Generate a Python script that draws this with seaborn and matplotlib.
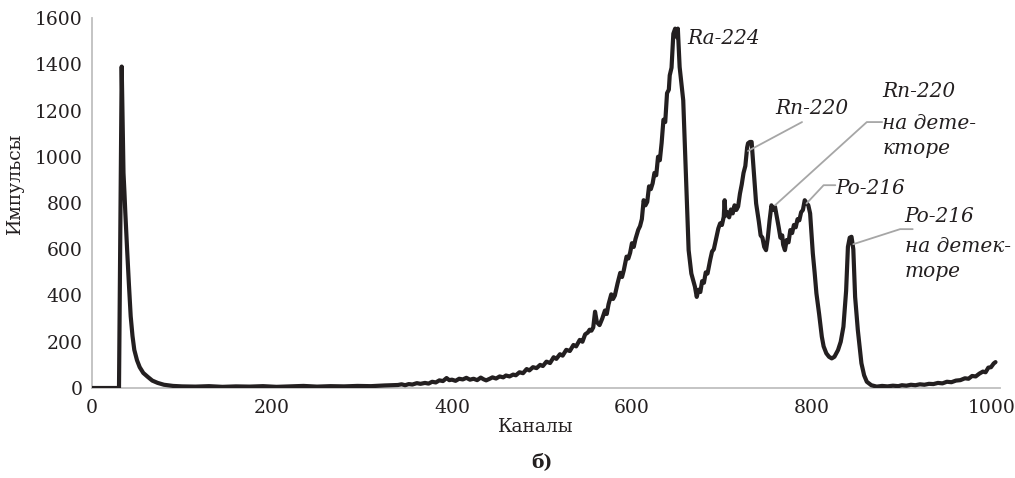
import pandas as pd
import matplotlib
matplotlib.use("Agg")
import matplotlib.pyplot as plt
import seaborn as sns

# спектр: канал -> импульсы
channels = [0, 10, 20, 30, 33, 35, 36, 37, 39, 41, 43, 45, 47, 50, 53, 57, 62, 67, 73, 80,
            90, 100, 115, 130, 145, 160, 175, 190, 205, 220, 235, 250, 265, 280, 295, 310,
            325, 340, 344, 348, 352, 356, 361, 365, 370, 374, 378, 382, 386, 390, 394, 397,
            400, 404, 408, 412, 416, 420, 424, 428, 432, 435, 438, 442, 445, 449, 453, 457,
            460, 464, 468, 471, 475, 479, 483, 486, 490, 494, 498, 501, 505, 509, 513, 516,
            520, 523, 527, 531, 535, 538, 542, 545, 548, 551, 553, 555, 557, 559, 561, 564,
            567, 570, 572, 574, 577, 579, 581, 584, 587, 589, 591, 594, 596, 598, 600, 602,
            604, 607, 609, 611, 613, 615, 617, 619, 621, 623, 625, 627, 629, 631, 633, 635,
            637, 639, 641, 642, 644, 646, 648, 650, 651, 653, 657, 659, 661, 663, 666, 670,
            672, 674, 676, 678, 680, 682, 684, 687, 689, 691, 694, 696, 698, 700, 702, 703,
            704, 706, 708, 710, 712, 714, 716, 718, 720, 722, 724, 726, 728, 729, 731, 733,
            735, 738, 741, 743, 745, 747, 749, 751, 753, 755, 757, 759, 761, 763, 765, 767,
            768, 770, 772, 774, 776, 778, 780, 782, 784, 786, 788, 790, 792, 794, 796, 798,
            801, 803, 805, 808, 811, 813, 816, 819, 822, 825, 829, 832, 835, 838, 840, 842,
            844, 846, 848, 851, 855, 858, 861, 866, 872, 878, 884, 890, 896, 900, 905, 910,
            915, 920, 925, 930, 935, 940, 945, 950, 955, 960, 965, 970, 974, 978, 982, 986,
            990, 993, 996, 999, 1002, 1004]
counts = [0, 0, 0, 0, 1390, 930, 850, 760, 600, 450, 310, 225, 165, 120, 90, 65, 48, 32, 22, 14,
          9, 7, 6, 8, 5, 7, 6, 8, 5, 7, 9, 6, 8, 7, 9, 8,
          11, 13, 16, 12, 17, 15, 21, 18, 22, 19, 27, 24, 33, 30, 43, 34,
          36, 31, 40, 37, 44, 36, 40, 34, 45, 38, 33, 40, 46, 41, 50, 46,
          54, 50, 58, 55, 68, 64, 82, 76, 90, 86, 100, 95, 114, 108, 133, 126,
          146, 140, 165, 160, 186, 180, 208, 200, 232, 240, 252, 248, 262, 330, 285, 272,
          300, 335, 320, 362, 405, 385, 400, 452, 498, 480, 510, 568, 560, 585, 626, 610,
          645, 684, 700, 730, 812, 790, 805, 872, 860, 885, 930, 920, 1000, 985, 1060, 1160,
          1150, 1275, 1290, 1352, 1385, 1532, 1554, 1517, 1554, 1388, 1244, 1028, 812, 596, 495, 438,
          394, 425, 415, 462, 455, 500, 495, 555, 590, 600, 655, 690, 712, 705, 740, 812,
          745, 760, 738, 772, 755, 790, 770, 785, 840, 880, 930, 960, 1040, 1058, 1064, 1064,
          956, 798, 720, 660, 650, 610, 596, 650, 726, 790, 770, 783, 740, 697, 650, 660,
          620, 596, 640, 630, 683, 670, 705, 695, 730, 725, 760, 770, 812, 800, 790, 755,
          582, 500, 409, 320, 222, 180, 150, 135, 128, 135, 164, 200, 265, 420, 610, 650,
          654, 600, 394, 251, 107, 55, 27, 12, 6, 9, 7, 10, 8, 12, 10, 14,
          12, 16, 14, 18, 17, 22, 20, 27, 25, 32, 34, 42, 40, 52, 50, 62,
          71, 68, 88, 90, 106, 112]

x_ticks = [0, 200, 400, 600, 800, 1000]
y_ticks = [0, 200, 400, 600, 800, 1000, 1200, 1400, 1600]

df = pd.DataFrame({"Каналы": channels, "Импульсы": counts})

sns.set_style("white")
plt.rcParams["font.family"] = ["DejaVu Serif"]
plt.rcParams["text.color"] = "#231f20"

ink = "#231f20"
lead = "#a6a6a6"
fs = 13.5

fig = plt.figure(figsize=(10.15, 4.78), dpi=100)
ax = fig.add_axes([92 / 1015, 1 - 388 / 478, 908 / 1015, 370 / 478])

sns.lineplot(data=df, x="Каналы", y="Импульсы", color=ink, linewidth=3.0, ax=ax, zorder=3)

ax.set_xlim(0, 1009)
ax.set_ylim(0, 1600)
ax.set_xticks(x_ticks)
ax.set_yticks(y_ticks)
ax.tick_params(length=0, labelsize=fs, labelcolor=ink)
ax.tick_params(axis="x", pad=8)
ax.tick_params(axis="y", pad=7)
for s in ["top", "right"]:
    ax.spines[s].set_visible(False)
for s in ["left", "bottom"]:
    ax.spines[s].set_color("#bfbfbf")
    ax.spines[s].set_linewidth(1.3)

ax.set_xlabel("Каналы", fontsize=fs, color=ink)
ax.set_ylabel("Импульсы", fontsize=fs, color=ink)
ax.xaxis.set_label_coords(0.489, -0.08)
ax.yaxis.set_label_coords(-0.075, 0.554)

# подписи пиков
it = dict(fontsize=14.5, style="italic", color=ink, va="baseline", ha="left")
ax.text(661, 1489, "Ra-224", **it)
ax.text(759, 1187, "Rn-220", **it)
ax.plot([789, 729], [1150, 1025], color=lead, lw=1.3, zorder=4)

ax.text(878, 1258, "Rn-220", **it)
ax.text(878, 1122, "на дете-", **it)
ax.text(878, 1014, "кторе", **it)
ax.plot([878, 861, 759], [1150, 1150, 790], color=lead, lw=1.3, zorder=4)

ax.text(826, 841, "Po-216", **it)
ax.plot([826, 813, 794], [877, 877, 798], color=lead, lw=1.3, zorder=4)

ax.text(903, 718, "Po-216", **it)
ax.text(903, 589, "на детек-", **it)
ax.text(903, 481, "торе", **it)
ax.plot([912, 898, 846], [687, 687, 622], color=lead, lw=1.3, zorder=4)

fig.text(542 / 1015, 1 - 462 / 478, "б)", ha="center", va="center",
         fontsize=fs, fontweight="bold", color=ink)

plt.savefig("out.png", dpi=100)
